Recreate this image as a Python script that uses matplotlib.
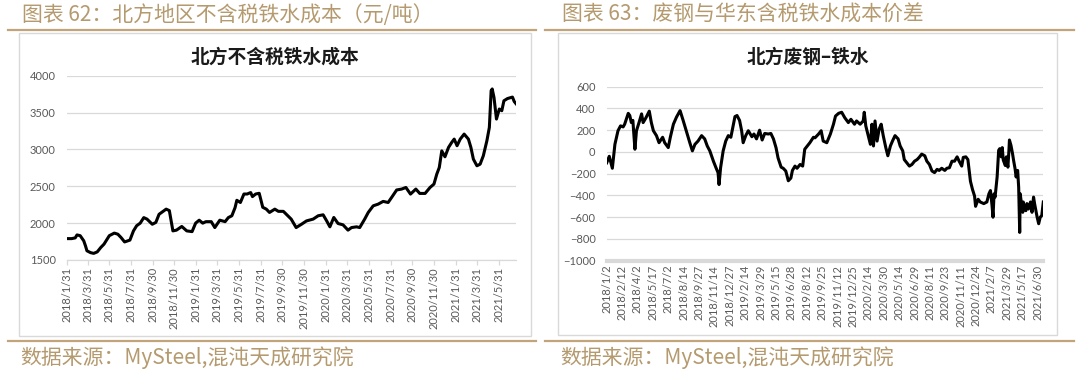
import matplotlib
matplotlib.use("Agg")
import matplotlib.pyplot as plt
from matplotlib.patches import Rectangle
from matplotlib.lines import Line2D
import pandas as pd

plt.rcParams['font.family'] = ['Noto Sans CJK SC', 'DejaVu Sans']

# ---------------- data: left chart ----------------
left_dates = ["2018-01-31","2018-02-14","2018-02-24","2018-03-01","2018-03-10","2018-03-20","2018-03-25","2018-03-29","2018-04-08","2018-04-17",
              "2018-04-27","2018-05-07","2018-05-16","2018-05-31","2018-06-14","2018-06-24","2018-07-03","2018-07-13","2018-07-28","2018-08-07",
              "2018-08-16","2018-08-26","2018-09-05","2018-09-14","2018-09-29","2018-10-09","2018-10-18","2018-10-28","2018-11-07","2018-11-16",
              "2018-11-26","2018-12-06","2018-12-21","2019-01-04","2019-01-19","2019-01-29","2019-02-08","2019-02-18","2019-02-27","2019-03-14",
              "2019-03-24","2019-04-07","2019-04-22","2019-05-01","2019-05-11","2019-05-20","2019-05-25","2019-06-04","2019-06-14","2019-06-23",
              "2019-07-03","2019-07-08","2019-07-17","2019-07-27","2019-08-06","2019-08-16","2019-08-25","2019-09-09","2019-09-19","2019-10-03",
              "2019-10-25","2019-11-08","2019-11-23","2019-12-07","2019-12-26","2020-01-09","2020-01-23","2020-02-02","2020-02-11","2020-02-22",
              "2020-03-05","2020-03-19","2020-04-02","2020-04-12","2020-04-26","2020-05-05","2020-05-19","2020-05-29","2020-06-12","2020-06-26",
              "2020-07-10","2020-07-24","2020-08-03","2020-08-17","2020-08-31","2020-09-12","2020-09-25","2020-10-10","2020-10-21","2020-11-05",
              "2020-11-19","2020-11-30","2020-12-08","2020-12-15","2020-12-22","2020-12-31","2021-01-10","2021-01-19","2021-01-26","2021-02-03",
              "2021-02-12","2021-02-23","2021-03-07","2021-03-14","2021-03-21","2021-03-31","2021-04-09","2021-04-18","2021-04-28","2021-05-05",
              "2021-05-10","2021-05-13","2021-05-18","2021-05-25","2021-06-02","2021-06-09","2021-06-15","2021-06-25","2021-07-02","2021-07-09",
              "2021-07-14","2021-07-19"]
left_values = [1790,1790,1800,1840,1830,1760,1690,1625,1600,1590,
               1610,1670,1715,1830,1865,1850,1805,1745,1770,1895,
               1965,2000,2075,2055,1985,2010,2120,2155,2190,2170,
               1895,1905,1955,1895,1885,2000,2040,2000,2020,2020,
               1940,2040,2020,2075,2100,2210,2310,2280,2395,2395,
               2415,2360,2395,2405,2215,2190,2145,2190,2160,2160,
               2055,1940,1985,2030,2055,2100,2113,2030,1950,2077,
               1995,1977,1905,1940,1950,1940,2055,2145,2235,2258,
               2295,2280,2350,2450,2462,2484,2394,2462,2403,2403,
               2484,2530,2665,2755,2980,2900,3027,3095,3140,3050,
               3140,3208,3140,3027,2868,2778,2800,2914,3117,3299,
               3797,3820,3706,3412,3548,3525,3660,3690,3700,3710,
               3650,3620]
left_ticks = ["2018/1/31","2018/3/31","2018/5/31","2018/7/31","2018/9/30","2018/11/30",
              "2019/1/31","2019/3/31","2019/5/31","2019/7/31","2019/9/30","2019/11/30",
              "2020/1/31","2020/3/31","2020/5/31","2020/7/31","2020/9/30","2020/11/30",
              "2021/1/31","2021/3/31","2021/5/31"]
left_yticks = [1500, 2000, 2500, 3000, 3500, 4000]

# ---------------- data: right chart ----------------
right_idx = [0,5,11,16,22,27,32,35,42,45,48,51,55,58,63,68,71,76,83,87,
             91,97,102,109,113,120,124,130,136,143,149,155,162,167,172,178,185,191,196,201,
             208,213,217,219,222,227,232,237,242,247,250,254,259,263,266,271,276,283,287,292,
             298,303,308,315,320,325,330,334,340,344,349,354,359,362,367,371,377,382,386,391,
             396,403,
             406,413,418,422,429,436,442,446,452,458,464,471,476,483,487,494,500,502,505,509,
             514,517,520,523,527,531,535,539,544,548,553,557,562,568,572,577,580,585,590,595,
             600,605,609,614,620,624,629,634,639,644,648,653,659,663,668,673,678,683,687,692,
             695,700,704,709,713,717,719,724,
             728,735,741,745,748,751,753,755,757,761,764,766,769,771,773,777,779,782,784,785,
             788,791,793,796,798,801,803,805,806,808,811,812,814,817,819,822,826,829,832,834,
             836,839,842,845,848,851]
right_values = [-100,-40,-150,70,195,240,230,255,355,335,270,290,25,195,270,350,270,310,375,270,
                195,150,85,135,85,40,135,255,320,380,290,195,85,10,70,100,150,120,55,10,
                -85,-145,-190,-300,-145,10,100,150,135,255,325,335,290,195,85,150,195,140,165,120,
                200,110,170,165,170,120,40,-55,-140,-150,-175,-265,-240,-170,-130,-150,-115,-130,25,55,
                85,135,
                130,165,195,100,85,165,255,330,355,365,315,270,300,255,285,255,285,365,240,165,
                70,255,55,285,100,210,255,150,40,-35,55,100,150,120,55,10,-70,-100,-130,-115,
                -85,-70,-50,-20,-35,-85,-115,-175,-190,-160,-170,-150,-170,-150,-145,-85,-85,-45,-85,-130,
                -50,-45,-70,-270,-345,-405,-500,-435,
                -460,-475,-460,-385,-355,-490,-600,-385,-415,-230,15,30,-45,40,-75,-125,-45,-140,15,110,
                60,-15,-75,-155,-230,-170,-325,-740,-385,-460,-555,-460,-510,-540,-475,-525,-460,-555,-415,-475,
                -525,-600,-660,-600,-585,-460]
right_ticks = ["2018/1/2","2018/2/12","2018/4/2","2018/5/17","2018/7/2","2018/8/14","2018/9/27",
               "2018/11/14","2018/12/27","2019/2/14","2019/3/29","2019/5/15","2019/6/28","2019/8/12",
               "2019/9/25","2019/11/12","2019/12/25","2020/2/14","2020/3/30","2020/5/14","2020/6/29",
               "2020/8/11","2020/9/23","2020/11/11","2020/12/24","2021/2/7","2021/3/29","2021/5/17",
               "2021/6/30"]
right_tick_step = 30
right_yticks = [-1000, -800, -600, -400, -200, 0, 200, 400, 600]

# ---------------- styles ----------------
W, H = 1080, 372
GOLD_TXT = '#B49A6E'
GOLD_LINE = '#C1A47A'
GRID = '#D9D9D9'
TICKC = '#595959'
TICKFONT = ['Lato', 'DejaVu Sans']

fig = plt.figure(figsize=(W / 100, H / 100), dpi=100)


def fx(x):
    return x / W


def fy(y):
    return 1 - y / H


# frames
for (x0, y0, x1, y1) in [(19.3, 33, 531, 336), (558, 33, 1057, 335)]:
    fig.add_artist(Rectangle((fx(x0), fy(y1)), fx(x1) - fx(x0), fy(y0) - fy(y1),
                             transform=fig.transFigure, fill=False, ec=GRID, lw=1))

# gold rules
for (x0, x1) in [(8, 536), (545, 1074)]:
    fig.add_artist(Line2D([fx(x0), fx(x1)], [fy(30), fy(30)], color=GOLD_LINE, lw=1.6,
                          transform=fig.transFigure))
    fig.add_artist(Line2D([fx(x0), fx(x1)], [fy(341), fy(341)], color=GOLD_LINE, lw=1.6,
                          transform=fig.transFigure))

# headers and footers
fig.text(fx(22), fy(15), "图表 62：北方地区不含税铁水成本（元/吨）", color=GOLD_TXT,
         fontsize=15, va='center', ha='left')
fig.text(fx(562), fy(15), "图表 63：废钢与华东含税铁水成本价差", color=GOLD_TXT,
         fontsize=15, va='center', ha='left')
fig.text(fx(20), fy(358), "数据来源：MySteel,混沌天成研究院", color=GOLD_TXT,
         fontsize=15, va='center', ha='left')
fig.text(fx(560), fy(358), "数据来源：MySteel,混沌天成研究院", color=GOLD_TXT,
         fontsize=15, va='center', ha='left')

# chart titles
fig.text(fx(275), fy(57), "北方不含税铁水成本", fontsize=13.5, fontweight='bold',
         color='#1a1a1a', ha='center', va='center')
fig.text(fx(808), fy(57), "北方废钢–铁水", fontsize=13.5, fontweight='bold',
         color='#1a1a1a', ha='center', va='center')

# ---------------- left chart ----------------
ax1 = fig.add_axes([fx(66.7), fy(260), fx(516) - fx(66.7), fy(75.7) - fy(260)])
ld = pd.to_datetime(left_dates)
ax1.plot(ld, left_values, color='black', lw=2.2, solid_joinstyle='round', zorder=3)
ax1.set_ylim(left_yticks[0], left_yticks[-1])
ax1.set_yticks(left_yticks)
ax1.set_xlim(ld[0], ld[-1])
tick_dates = pd.to_datetime(left_ticks, format="%Y/%m/%d")
ax1.set_xticks(tick_dates)
ax1.set_xticklabels(left_ticks, rotation=90)
ax1.grid(axis='y', color=GRID, lw=0.9)
ax1.set_axisbelow(True)
for s in ['top', 'right', 'left']:
    ax1.spines[s].set_visible(False)
ax1.spines['bottom'].set_color(GRID)
ax1.spines['bottom'].set_linewidth(0.9)
ax1.tick_params(axis='y', length=0, pad=8, labelsize=8, labelcolor=TICKC)
ax1.tick_params(axis='x', length=3.5, width=0.9, color=GRID, pad=1.5, labelsize=8, labelcolor=TICKC)
for lab in ax1.get_xticklabels() + ax1.get_yticklabels():
    lab.set_family(TICKFONT)

# ---------------- right chart ----------------
ax2 = fig.add_axes([fx(606.7), fy(260.7), fx(1043.3) - fx(606.7), fy(86.7) - fy(260.7)])
ax2.plot(right_idx, right_values, color='black', lw=2.2, solid_joinstyle='round', zorder=3)
ax2.set_ylim(right_yticks[0], right_yticks[-1])
ax2.set_yticks(right_yticks)
ax2.set_xlim(right_idx[0], right_idx[-1])
ax2.set_xticks([i * right_tick_step for i in range(len(right_ticks))])
ax2.set_xticklabels(right_ticks, rotation=90)
ax2.grid(axis='y', color=GRID, lw=0.9)
ax2.set_axisbelow(True)
for s in ['top', 'right', 'left']:
    ax2.spines[s].set_visible(False)
ax2.spines['bottom'].set_color(GRID)
ax2.spines['bottom'].set_linewidth(3.0)
ax2.tick_params(axis='y', length=0, pad=8, labelsize=8, labelcolor=TICKC)
ax2.tick_params(axis='x', length=0, pad=3, labelsize=8, labelcolor=TICKC)
for lab in ax2.get_xticklabels() + ax2.get_yticklabels():
    lab.set_family(TICKFONT)

fig.savefig("out.png", dpi=100)
